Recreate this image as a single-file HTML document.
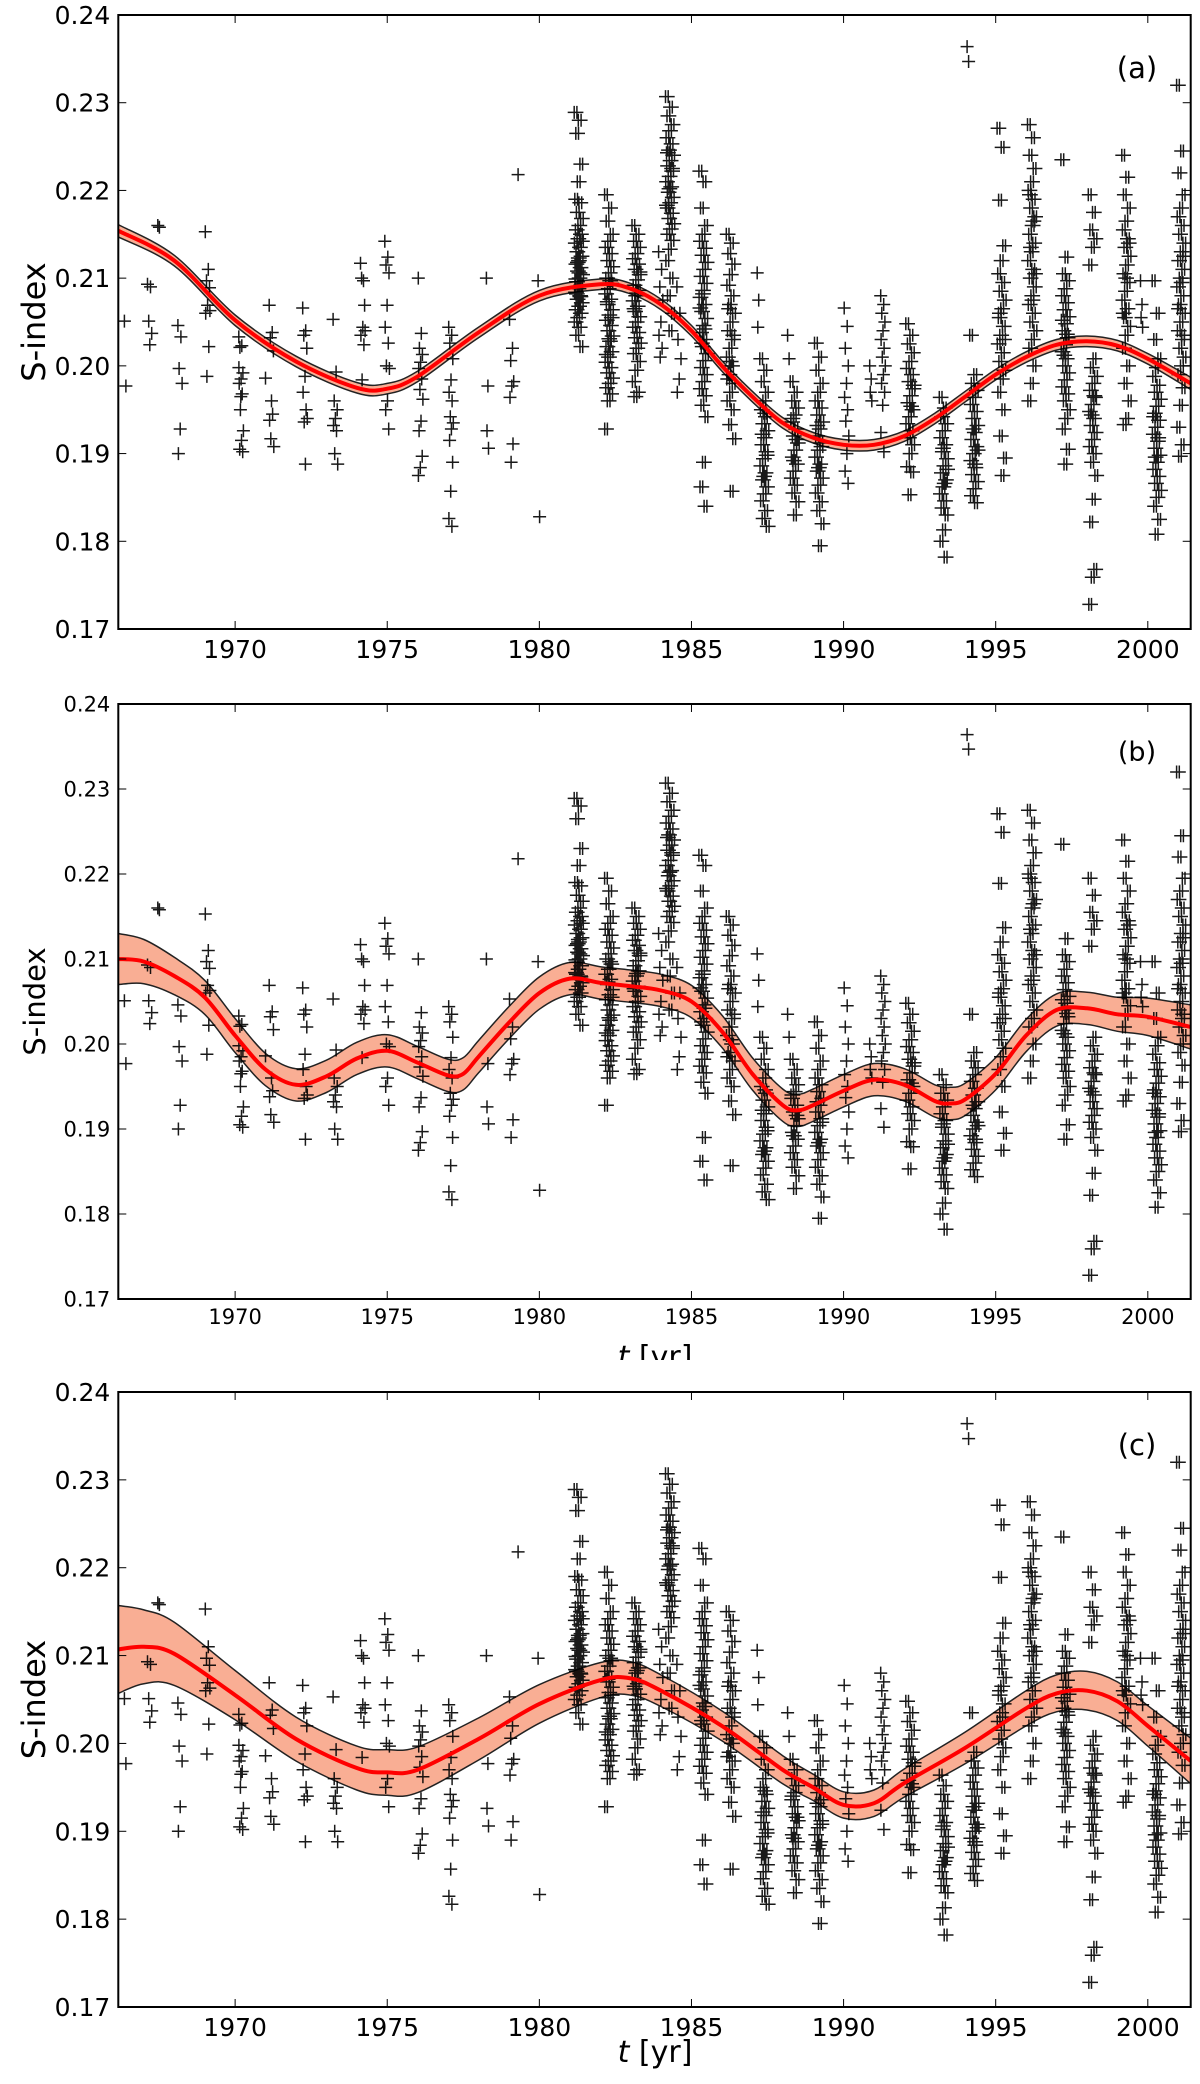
<!DOCTYPE html>
<html><head><meta charset="utf-8"><style>
html,body{margin:0;padding:0;background:#fff;}
svg{display:block;font-family:"DejaVu Sans","Liberation Sans",sans-serif;}
</style></head><body>
<svg id="fig" width="1200" height="2084" viewBox="0 0 1200 2084" xmlns="http://www.w3.org/2000/svg"></svg>
<script>
// ---- data (S-index values in thousandths) ----
const seasonYears = [1966.4,1967.2,1967.5,1968.2,1969.1,1970.2,1971.0,1971.2,1972.3,1973.3,1974.2,1975.0,1976.1,1977.1,1978.3,1979.1,1979.3,1980.0,
1981.3,1982.3,1983.2,1984.0,1984.3,1984.6,1985.4,1986.3,1987.2,1987.4,1988.2,1988.4,1989.2,1990.1,1990.9,1991.3,1992.2,1993.3,1994.1,1994.3,1995.2,1996.2,1997.3,1998.2,1999.3,1999.8,2000.3,2001.1];
const seasonValues = [
[205.1,197.7],
[209.3,209.0,205.1,203.7,202.4],
[216,215.8],
[204.6,203.3,199.7,198,192.8,190],
[215.3,211,209.7,208.9,206.9,206,202.2,198.8,206.3],
[203.3,202.3,202.1,199.2,198.5,198,196.8,195,192.6,191.5,190.5,190.2,196.5,199.8],
[198.6],
[206.9,203.8,203.2,201.7,196,193.8,194.5,191.7,190.8],
[206.6,204,203.5,202,198.8,197,195,193.6,194,188.8],
[205.3,199.3,196,195,194,193.2,192.6,190,188.8],
[211.7,209.7,210,206.9,204.4,203.5,202.4,198.4,204],
[214.2,212.4,211.5,210.6,206.9,204.4,202.6,200,199.7,196,195,192.8],
[210,203.7,202,201.3,200.4,199.7,198.5,197.3,196.2,193.7,192.6,189.7,188.4,187.5],
[204.4,203.5,202.6,200.8,198.4,197,196,194.2,193.5,192.8,191.5,189,185.7,182.6,181.7],
[210,197.7,192.6,190.6],
[205.3,202,200.6,198.2,197.7,196.4,191.1,189],
[221.8],
[209.7,182.8],
[228.9,228,226.5,223,221,219,218.6,217.5,216.8,216,215.5,215,214.5,214,213.5,213,212.5,212,211.6,211.2,210.8,210.4,210,209.6,209.2,208.8,208.4,208,207.6,207.2,206.8,206.4,206,205.5,205,204.4,203.5,202.2,212.3,209.9,207.9,211.8,214.2,210.6,208.2],
[219.5,218,216.5,215,214.2,213.5,212.8,212,211.3,210.6,210,209.4,208.8,208.2,207.6,207,206.4,205.8,205.2,204.6,204,203.4,202.8,202.2,201.6,201,200.4,199.8,199.2,198.6,198,197.5,196.8,196,192.8,209.7,207.3,205.5,203.1,201.3],
[216,215,214.2,213.5,212.8,212.2,211.6,211,210.4,209.8,209.2,208.6,208,207.4,206.8,206.2,205.6,205,204.4,203.8,203.2,202.6,202,201.4,200.5,199.5,198.2,197,196.5,210.7,208.3,206.5],
[213,211,209,207.5,205,203.5,202,201],
[230.7,229.5,228.5,227.5,226.8,226,225.3,224.6,224,223.4,222.8,222.2,221.6,221,220.4,219.8,219.2,218.6,218,217.4,216.8,216.2,215.6,215,214.3,213.3,212,210,208,206,204,224.3,222.5,220.2,218.3],
[209,206,203,200.8,198.5,197],
[222.2,221,218,216,215,214.2,213.4,212.6,211.8,211,210.2,209.4,208.6,207.8,207,206.2,205.4,204.6,203.8,203,202.2,201.4,200.6,199.8,199,198.2,197.4,196.6,195.5,194.2,189,186.2,184,208.2,206.6,204.2,202.6],
[215,214,212.8,211.6,210.4,209.2,208,207,206,205,204,203,202,201,200,199,198,197,196,195,193.3,191.7,185.7,206.5,203.5,200.5,198.5],
[210.6,207.5,204.4],
[200.8,199.5,198.2,197,196,195,194.2,193.4,192.6,191.8,191,190.2,189.4,188.6,187.8,187,186.2,185.4,184.6,183.5,182.6,181.7,194.6,192.2,189.8,187.4],
[203.5,200.8],
[198.2,197,196,195.2,194.4,193.6,192.8,192,191.2,190.4,189.6,188.8,188,187.2,186.4,185.5,184.5,183,194,191.6,189.2],
[202.6,201,199.5,198,197,196,195.2,194.4,193.6,192.8,192,191.2,190.4,189.6,188.8,188,187.2,186.4,185.5,184.5,183.5,182,179.5,193.2,190.8,188.4],
[206.6,204.5,202,200,198,196.4,195,193.7,192,190,188,186.6],
[200,198.5,197,196],
[208,207,206,205,204,203,202,201,200,199,198,197,195.5,192.4,190.2],
[204.8,203.5,202.5,201.5,200.5,199.7,199,198.2,197.4,196.6,195.8,195,194.2,193.4,192.6,191.8,191,190,188.5,187.9,185.3,197.8,195.4],
[196.4,195.2,194.2,193.4,192.6,191.8,191,190.2,189.4,188.6,187.8,187,186.2,185.4,184.6,183.8,183,181.3,180,178.2,190.6,188.2,186.6],
[236.4,234.7],
[203.5,199,198,197.2,196.4,195.6,194.8,194,193.2,192.4,191.6,190.8,190,189.2,188.4,187.6,186.8,186,185.2,184.4,192.8,190.4,188.8],
[227.1,224.9,218.9,213.7,212,210.5,209.5,208.5,207.5,206.5,205.5,204.5,203.5,202.5,201.5,200.5,199.5,198.5,197,195,192,189.5,187.5,206,203],
[227.5,226,224,222.5,221,220,219,218,217,216,215,214,213,212,211,210,209,208,207,206,205,204,203,202,200,198,196,216.5,213.5,210.5,207.5,219.5],
[223.5,212.4,210.5,209.7,208.8,208,207.2,206.4,205.6,204.8,204,203.2,202.4,201.6,200.8,200,199.2,198.4,197.6,196.8,196,195,194,192.8,190.5,188.8,205.2,203.6,201.2],
[219.5,217.5,215.5,214.5,213.5,211.5,200.8,199.8,198.8,198,197.2,196.4,195.6,194.8,194,193.2,192.4,191.6,190.8,190,189,187.5,184.8,182.2,176.8,175.9,172.8,196.6,194.4],
[224,221.5,219.5,218,216.5,215.5,214.5,213.5,212.5,211.5,210.5,209.5,208.5,207.5,206.5,205.5,204.5,203.5,202,200,198,196,194,193.3,214,210,206],
[209.7,207,205.5,204.4],
[209.7,206,203,200.8,199.8,198.8,197.8,197,196.2,195.4,194.6,193.8,193,192.2,191.4,190.6,189.8,189,188.2,187.4,186.6,185.8,185,184,182.5,180.8,194.2,191.8,189.6],
[232,224.5,222,219.5,218,217,216,215,214,213,212,211,210,209,208,207,206,205,204,203,202,201,200,199,197.5,195.5,193,191,189.7,212.5,209.5,206.5,203.5]
];
// fit curves
const curveYearsA = [1966.16,1968,1970,1972,1974,1975,1976,1978,1980,1982,1983,1984,1985,1986,1987,1988,1989,1990,1991,1992,1993,1994,1995,1996,1997,1998,1999,2000,2001.41];
const curveMeanA  = [215.4,212,205.2,200.5,197.5,197.4,198.8,203.8,208,209.3,208.8,207,204,200,196.5,193.5,191.8,191,191,192,194,196.5,199,201,202.4,202.8,202.3,200.8,198];
const curveErrA   = [0.7,0.6,0.6,0.6,0.6,0.6,0.6,0.6,0.6,0.6,0.6,0.6,0.6,0.6,0.6,0.6,0.6,0.6,0.6,0.6,0.6,0.6,0.6,0.6,0.6,0.6,0.6,0.6,0.7];
const curveYearsB = [1966.16,1967,1968,1969,1970,1971,1972,1973,1974,1975,1976,1977,1977.5,1978,1979,1980,1981,1982,1983,1984,1985,1986,1987,1988,1988.5,1989,1990,1991,1992,1993,1993.5,1994,1995,1996,1997,1998,1999,2000,2001.41];
const curveMeanB  = [210,209.7,208,205.5,201,197,195.2,196.2,198.3,199.2,197.8,196.3,196.5,198.5,202.5,206,207.7,207.2,206.8,206.3,205,201.5,196.5,192.8,192.2,192.8,194.5,195.8,195.2,193.3,193,193.5,196.5,201,204,204.2,203.5,203.2,202];
const curveErrB   = [3,2.6,2.2,2,2,1.9,1.9,1.9,1.9,1.9,1.9,1.9,1.9,1.9,1.9,1.9,1.9,1.9,1.9,1.9,1.9,1.9,1.9,1.9,1.9,1.9,1.9,1.9,1.9,1.9,1.9,1.9,1.9,1.9,1.9,1.9,2,2.2,2.6];
const curveYearsC = [1966.16,1967,1968,1970,1972,1974,1975,1976,1978,1980,1982,1983,1984,1986,1988,1989,1990,1991,1992,1994,1996,1997,1998,1999,2000,2001.41];
const curveMeanC  = [210.7,211,210.2,205.5,200.5,197.2,196.7,197,200.5,204.5,207.2,207.4,206,202,197,195,193,193.2,195.5,199.5,204,205.7,206,204.8,202,198];
const curveErrC   = [5,4.2,3.6,2.8,2.5,2.5,2.6,2.6,2.4,2.2,2,1.9,1.8,1.7,1.6,1.5,1.5,1.5,1.6,1.8,2,2.1,2.2,2.2,2.3,2.6];
const yTicks = [0.17,0.18,0.19,0.20,0.21,0.22,0.23,0.24];
const yTickLabels = ["0.17","0.18","0.19","0.20","0.21","0.22","0.23","0.24"];
const xTicks = [1970,1975,1980,1985,1990,1995,2000];

// ---- layout ----
const NS="http://www.w3.org/2000/svg";
const svg=document.getElementById('fig');
const X0=118.3, X1=1190.7, T0=1966.16, T1=2001.41;
function xs(t){return X0+(t-T0)/(T1-T0)*(X1-X0);}
function mk(tag,attrs,parent){const e=document.createElementNS(NS,tag);for(const k in attrs)e.setAttribute(k,attrs[k]);(parent||svg).appendChild(e);return e;}
function smooth(pts,start){
  let d=(start||'M')+pts[0][0].toFixed(1)+','+pts[0][1].toFixed(1);
  for(let i=0;i<pts.length-1;i++){
    const p0=pts[Math.max(0,i-1)],p1=pts[i],p2=pts[i+1],p3=pts[Math.min(pts.length-1,i+2)];
    const c1x=p1[0]+(p2[0]-p0[0])/6,c1y=p1[1]+(p2[1]-p0[1])/6;
    const c2x=p2[0]-(p3[0]-p1[0])/6,c2y=p2[1]-(p3[1]-p1[1])/6;
    d+='C'+c1x.toFixed(1)+','+c1y.toFixed(1)+' '+c2x.toFixed(1)+','+c2y.toFixed(1)+' '+p2[0].toFixed(1)+','+p2[1].toFixed(1);
  }
  return d;
}

const panels=[
 {id:'a',top:15,bot:629,fs:25,lfs:32,cy:curveYearsA,cm:curveMeanA,ce:curveErrA,xlabel:false},
 {id:'b',top:704,bot:1299,fs:21,lfs:29,cy:curveYearsB,cm:curveMeanB,ce:curveErrB,xlabel:true},
 {id:'c',top:1392,bot:2007,fs:25,lfs:32,cy:curveYearsC,cm:curveMeanC,ce:curveErrC,xlabel:true}
];

panels.forEach(p=>{
  const ys=v=>p.bot-(v-0.17)/0.07*(p.bot-p.top);
  const g=mk('g',{});
  
  
  if(p.id==='c'){const w=mk('rect',{x:0,y:1360,width:1200,height:724,fill:'#fff'},g);
    }
  const cid='clip'+p.id;
  const cp=mk('clipPath',{id:cid},g);mk('rect',{x:X0,y:p.top,width:X1-X0,height:p.bot-p.top},cp);
  const plot=mk('g',{'clip-path':'url(#'+cid+')'},g);
  
  
  const upP=p.cy.map((t,i)=>[xs(t),ys((p.cm[i]+p.ce[i])/1000)]);
  const loP=p.cy.map((t,i)=>[xs(t),ys((p.cm[i]-p.ce[i])/1000)]);
  const midP=p.cy.map((t,i)=>[xs(t),ys(p.cm[i]/1000)]);
  const up=smooth(upP), lo=smooth(loP), mid=smooth(midP);
  const loRev=smooth(loP.slice().reverse(),'L');
  const band=mk('path',{d:up+loRev+'Z',fill:'#f9ae94',stroke:'none'},plot);
  
  
  const bu=mk('path',{d:up,fill:'none',stroke:'#222',"stroke-width":1.5},plot);
  
  
  const bl=mk('path',{d:lo,fill:'none',stroke:'#222',"stroke-width":1.5},plot);
  
  
  let d='';
  seasonYears.forEach((yr,si)=>{
    const vals=seasonValues[si];const n=vals.length;
    const dense=n>20;
    const w=dense?0.22:(n>4?0.16:0.08);
    vals.forEach((v,i)=>{
      const off=n>1?(((i*0.618034)%1)-0.5)*w:0;
      const reps=dense?[-0.045,0.045]:[0];
      reps.forEach(r=>{
        const x=xs(yr+off+r),y=ys(v/1000);
        d+='M'+(x-6.5).toFixed(1)+','+y.toFixed(1)+'h13M'+x.toFixed(1)+','+(y-6.5).toFixed(1)+'v13';
      });
    });
  });
  const pts=mk('path',{d:d,stroke:'#000',"stroke-width":1.5,fill:'none',"stroke-opacity":0.9},plot);
  
  
  const ml=mk('path',{d:mid,fill:'none',stroke:'#ff0000',"stroke-width":4},plot);
  
  
  const fr=mk('rect',{x:X0,y:p.top,width:X1-X0,height:p.bot-p.top,fill:'none',stroke:'#000',"stroke-width":2},g);
  
  
  yTicks.forEach((v,i)=>{
    const y=ys(v);
    mk('line',{x1:X0,x2:X0+8,y1:y,y2:y,stroke:'#000',"stroke-width":1},g);
    mk('line',{x1:X1-8,x2:X1,y1:y,y2:y,stroke:'#000',"stroke-width":1},g);
    const t=mk('text',{x:X0-8,y:y+p.fs*0.36,"font-size":p.fs,"text-anchor":"end",fill:'#000'},g);
    t.textContent=yTickLabels[i];
    
    
  });
  xTicks.forEach(v=>{
    const x=xs(v);
    mk('line',{x1:x,x2:x,y1:p.bot,y2:p.bot-8,stroke:'#000',"stroke-width":1},g);
    mk('line',{x1:x,x2:x,y1:p.top,y2:p.top+8,stroke:'#000',"stroke-width":1},g);
    const t=mk('text',{x:x,y:p.bot+(p.id==='b'?25:29),"font-size":p.fs,"text-anchor":"middle",fill:'#000'},g);
    t.textContent=String(v);
    
    
  });
  const yc=(p.top+p.bot)/2;
  const yl=mk('text',{x:0,y:0,transform:'translate(45,'+yc+') rotate(-90)',"font-size":p.lfs,"text-anchor":"middle",fill:'#000'},g);
  yl.textContent='S-index';
  
  
  const pl=mk('text',{x:1137,y:p.top+(p.id==='b'?57:63),"font-size":p.id==='b'?27:29,"text-anchor":"middle",fill:'#000'},g);
  pl.textContent='('+p.id+')';
  
  
  if(p.xlabel){
    const xl=mk('text',{x:655,y:p.id==='b'?1367:2062,"font-size":30,"text-anchor":"middle",fill:'#000'},g);
    const ti=mk('tspan',{"font-style":"italic"},xl);ti.textContent='t';
    const tr=mk('tspan',{},xl);tr.textContent=' [yr]';
    
    
  }
});
</script>
</body></html>
